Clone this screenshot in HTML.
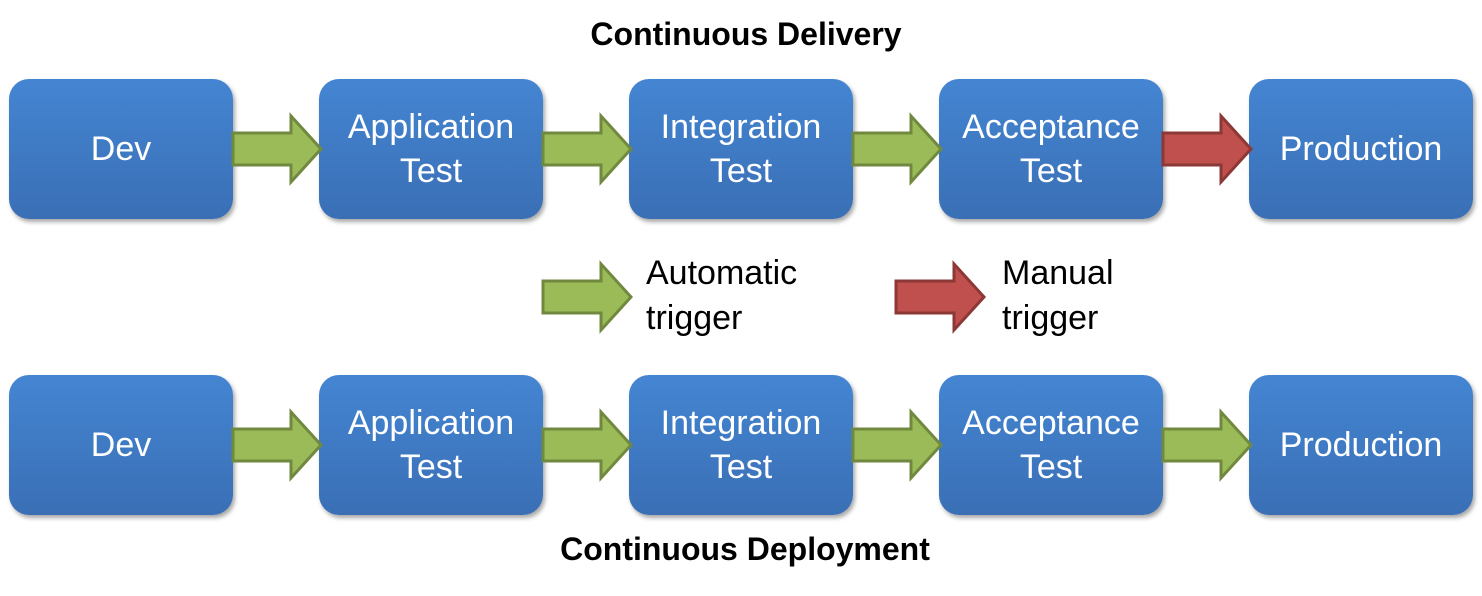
<!DOCTYPE html>
<html><head><style>
body{margin:0;width:1482px;height:596px;background:#fff;position:relative;font-family:"Liberation Sans",sans-serif;overflow:hidden}
.b{position:absolute;width:224px;height:140px;border-radius:20px;background:linear-gradient(#4485d2,#3a6fb5);box-shadow:2px 3px 4px rgba(0,0,0,.35);color:#fff;font-size:34px;display:flex;align-items:center;justify-content:center;text-align:center;line-height:44px}
.t{position:absolute;font-weight:bold;font-size:32px;width:1482px;text-align:center;left:0}
.l{position:absolute;font-size:34px;line-height:45px}
svg{position:absolute;left:0;top:0}
</style></head><body>
<div class="t" style="top:16px;left:5px">Continuous Delivery</div>
<div class="t" style="top:531px;left:4px">Continuous Deployment</div>
<div class="b" style="left:9px;top:79px">Dev</div>
<div class="b" style="left:319px;top:79px">Application<br>Test</div>
<div class="b" style="left:629px;top:79px">Integration<br>Test</div>
<div class="b" style="left:939px;top:79px">Acceptance<br>Test</div>
<div class="b" style="left:1249px;top:79px">Production</div>
<div class="b" style="left:9px;top:375px">Dev</div>
<div class="b" style="left:319px;top:375px">Application<br>Test</div>
<div class="b" style="left:629px;top:375px">Integration<br>Test</div>
<div class="b" style="left:939px;top:375px">Acceptance<br>Test</div>
<div class="b" style="left:1249px;top:375px">Production</div>
<div class="l" style="left:646px;top:251px">Automatic<br>trigger</div>
<div class="l" style="left:1002px;top:251px">Manual<br>trigger</div>
<svg width="1482" height="596">
<defs>
<g id="a"><path d="M0,-16 H58 V-33 L88,0 L58,33 V16 H0 Z" stroke-width="3" stroke-linejoin="miter"/></g>
</defs>
<g fill="#9bbb59" stroke="#71893f">
<use href="#a" x="233" y="149"/><use href="#a" x="543" y="149"/><use href="#a" x="853" y="149"/>
<use href="#a" x="233" y="445"/><use href="#a" x="543" y="445"/><use href="#a" x="853" y="445"/><use href="#a" x="1163" y="445"/>
<use href="#a" x="543" y="297"/>
</g>
<g fill="#c0504d" stroke="#8c3836">
<use href="#a" x="1163" y="149"/><use href="#a" x="896" y="297"/>
</g>
</svg>
</body></html>
